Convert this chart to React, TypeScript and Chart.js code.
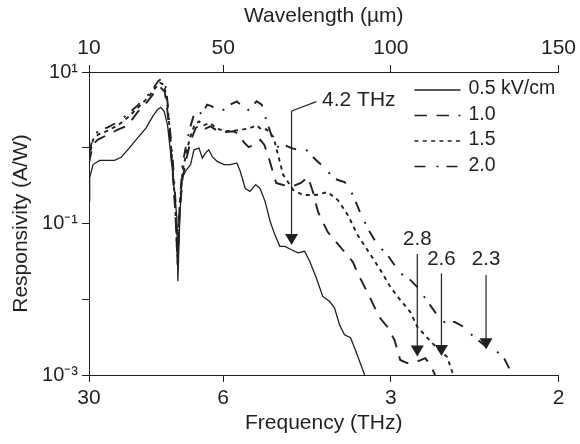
import { useEffect, useRef } from 'react';
import { Chart, registerables } from 'chart.js';

Chart.register(...registerables);

const FONT = '"Liberation Sans", Arial, Helvetica, sans-serif';
const INK = '#231f20';

// Axis ticks (x is linear in wavelength, µm)
const wavelengthTicks = [10, 50, 100, 150];
const wavelengthLabels = ['10', '50', '100', '150'];
const frequencyLabels = ['30', '6', '3', '2'];
const responsivityTicks = [1e-3, 1e-2, 1e-1, 1, 10];
const responsivityLabels = ['10⁻³', '', '10⁻¹', '', '10¹'];

const seriesNames = ['0.5 kV/cm', '1.0', '1.5', '2.0'];

// 0.5 kV/cm (solid)
const wl05 = [10.0, 10.2, 11.2, 13.2, 17.6, 19.6, 22.0, 24.5, 27.0, 29.0, 30.4, 31.4, 32.4, 33.4, 34.4, 35.4, 36.2, 36.5, 37.1, 37.8, 38.8, 40.3, 41.3, 42.8, 43.8, 44.7, 45.7, 46.7, 48.2, 50.3, 52.1, 54.1, 55.1, 56.6, 58.0, 59.7, 61.0, 62.5, 64.0, 65.4, 66.9, 68.4, 70.4, 72.3, 74.3, 75.8, 77.8, 79.7, 81.7, 83.2, 84.7, 86.2, 88.0, 89.5, 92.2];
const r05 = [0.2, 0.40, 0.60, 0.68, 0.68, 0.75, 0.99, 1.35, 1.82, 2.60, 3.18, 3.42, 3.03, 2.02, 0.81, 0.29, 0.118, 0.0173, 0.131, 0.40, 0.49, 0.60, 0.94, 0.99, 0.73, 0.85, 0.94, 0.77, 0.66, 0.60, 0.60, 0.63, 0.49, 0.29, 0.266, 0.326, 0.29, 0.196, 0.107, 0.0713, 0.050, 0.050, 0.045, 0.041, 0.043, 0.0317, 0.0191, 0.0109, 0.0094, 0.0077, 0.0046, 0.0034, 0.0031, 0.0021, 0.001];

// 1.0 kV/cm (long dash)
const wl10 = [10.0, 10.2, 11.2, 12.7, 15.6, 18.6, 21.6, 24.5, 27.5, 29.6, 31.3, 32.6, 33.4, 34.2, 35.0, 35.8, 36.4, 37.0, 37.9, 39.1, 40.3, 41.8, 43.3, 44.7, 46.2, 48.2, 50.7, 53.1, 55.1, 56.1, 57.6, 59.3, 61.1, 62.3, 63.8, 65.8, 67.9, 70.9, 73.2, 75.3, 76.8, 78.3, 81.2, 85.7, 88.7, 90.1, 93.1, 96.6, 99.0, 101.1, 102.8, 104.9, 107.3, 110.3, 112.0, 113.2];
const r10 = [0.62, 0.70, 1.12, 1.28, 1.49, 1.73, 1.98, 2.96, 4.10, 5.45, 6.28, 5.45, 3.03, 1.22, 0.44, 0.131, 0.0286, 0.131, 0.40, 0.73, 1.22, 1.82, 2.02, 1.79, 1.92, 1.68, 1.61, 1.65, 1.49, 1.19, 1.02, 1.09, 1.27, 1.09, 0.69, 0.343, 0.322, 0.313, 0.343, 0.411, 0.26, 0.142, 0.077, 0.0447, 0.031, 0.0222, 0.0121, 0.0058, 0.0043, 0.0029, 0.00158, 0.00144, 0.00147, 0.00167, 0.0013, 0.001];

// 1.5 kV/cm (short dash)
const wl15 = [10.0, 10.2, 11.2, 12.7, 15.6, 18.6, 21.6, 24.5, 27.5, 29.6, 31.2, 32.4, 33.3, 34.1, 34.9, 35.7, 36.4, 37.0, 37.9, 38.9, 40.1, 41.5, 42.8, 44.2, 46.0, 48.2, 50.7, 53.1, 55.6, 58.0, 60.0, 61.5, 62.9, 65.0, 67.9, 70.9, 73.8, 77.7, 81.2, 84.2, 87.2, 90.1, 94.0, 96.9, 99.9, 102.8, 105.8, 107.9, 111.5, 114.4, 116.8, 118.3, 118.8];
const r15 = [0.72, 0.81, 1.28, 1.49, 1.68, 1.98, 2.52, 3.35, 4.54, 6.03, 7.16, 6.81, 4.10, 1.65, 0.60, 0.177, 0.0317, 0.160, 0.49, 0.81, 1.35, 2.02, 2.23, 1.98, 2.12, 1.79, 1.65, 1.68, 1.73, 1.82, 1.98, 1.73, 1.75, 1.39, 0.44, 0.277, 0.238, 0.238, 0.26, 0.204, 0.129, 0.0705, 0.0384, 0.0243, 0.0145, 0.0098, 0.0068, 0.0043, 0.0029, 0.00214, 0.00173, 0.0011, 0.001];

// 2.0 kV/cm (dash-dot)
const wl20 = [10.0, 10.2, 11.2, 12.7, 15.6, 18.6, 21.6, 24.5, 27.5, 29.4, 30.6, 31.9, 32.7, 33.4, 34.2, 35.0, 35.8, 36.4, 37.1, 37.9, 38.8, 40.1, 41.3, 42.3, 43.7, 45.2, 46.7, 48.2, 50.2, 52.1, 54.1, 55.6, 57.1, 58.5, 60.0, 61.5, 62.5, 64.0, 65.4, 66.9, 68.4, 70.4, 72.3, 74.3, 76.3, 78.3, 80.2, 82.2, 84.2, 86.2, 87.6, 89.1, 91.1, 93.6, 95.4, 97.5, 99.0, 102.8, 105.8, 107.9, 110.0, 113.8, 115.9, 119.1, 121.8, 124.7, 128.6, 130.7, 133.6, 136.0, 136.6];
const r20 = [0.85, 0.90, 1.41, 1.65, 1.86, 2.19, 2.79, 3.63, 4.92, 6.28, 7.54, 8.34, 7.16, 4.10, 1.65, 0.66, 0.196, 0.039, 0.196, 0.60, 0.99, 1.82, 2.74, 3.18, 2.74, 3.70, 3.52, 3.03, 3.18, 3.70, 4.10, 3.52, 3.03, 3.52, 4.10, 3.70, 2.60, 1.65, 1.10, 0.99, 1.08, 0.99, 0.94, 0.99, 0.79, 0.65, 0.55, 0.43, 0.375, 0.353, 0.294, 0.217, 0.131, 0.079, 0.058, 0.045, 0.0384, 0.0222, 0.0180, 0.0145, 0.0107, 0.0062, 0.0050, 0.0050, 0.0043, 0.0032, 0.00234, 0.0022, 0.00173, 0.00106, 0.001];

// Arrow annotations (wavelength µm, responsivity A/W)
const arrowLabels = ['4.2 THz', '2.8', '2.6', '2.3'];
const arrowWl = [70.4, 107.9, 115.1, 128.4];
const arrowTopR = [3.06, 0.0395, 0.022, 0.0209];
const arrowTipR = [0.052, 0.00175, 0.00178, 0.00218];
const labelR = [4.18, 0.0618, 0.0337, 0.0337];
const leaderWl = 77.8;
const leaderR = 4.06;
const firstLabelWl = 79.5;

const dashes: number[][] = [[], [12.5, 9.5], [4, 4.3], [11, 11, 2, 8]];
const widths = [1.3, 1.9, 1.9, 1.9];

const toPoints = (xs: number[], ys: number[]) => xs.map((x, i) => ({ x, y: ys[i] }));

const overlayPlugin = {
  id: 'overlay',
  afterDatasetsDraw(chart: any) {
    const { ctx, chartArea } = chart;
    const xs = chart.scales.x;
    const ys = chart.scales.y;
    ctx.save();
    ctx.strokeStyle = INK;
    ctx.fillStyle = INK;
    ctx.lineWidth = 1.2;
    ctx.setLineDash([]);
    for (let i = 0; i < arrowWl.length; i++) {
      const px = xs.getPixelForValue(arrowWl[i]);
      const top = ys.getPixelForValue(arrowTopR[i]);
      const tip = ys.getPixelForValue(arrowTipR[i]);
      ctx.beginPath();
      ctx.moveTo(px, top);
      ctx.lineTo(px, tip - 9);
      ctx.stroke();
      ctx.beginPath();
      ctx.moveTo(px - 6.5, tip - 11);
      ctx.lineTo(px + 6.5, tip - 11);
      ctx.lineTo(px, tip);
      ctx.closePath();
      ctx.fill();
    }
    // leader line of first label
    ctx.beginPath();
    ctx.moveTo(xs.getPixelForValue(arrowWl[0]), ys.getPixelForValue(arrowTopR[0]));
    ctx.lineTo(xs.getPixelForValue(leaderWl), ys.getPixelForValue(leaderR));
    ctx.stroke();

    ctx.font = `21px ${FONT}`;
    ctx.textBaseline = 'middle';
    ctx.textAlign = 'left';
    ctx.fillText(arrowLabels[0], xs.getPixelForValue(firstLabelWl), ys.getPixelForValue(labelR[0]));
    ctx.font = `20.5px ${FONT}`;
    ctx.textAlign = 'center';
    for (let i = 1; i < arrowLabels.length; i++) {
      ctx.fillText(arrowLabels[i], xs.getPixelForValue(arrowWl[i]), ys.getPixelForValue(labelR[i]));
    }

    // legend
    const lx0 = chartArea.right - 144;
    const lx1 = chartArea.right - 98;
    const tx = chartArea.right - 90;
    const rows = [17, 42.5, 68, 93.5];
    ctx.font = `19.5px ${FONT}`;
    ctx.textAlign = 'left';
    for (let i = 0; i < seriesNames.length; i++) {
      const yy = chartArea.top + rows[i];
      ctx.lineWidth = 1.3;
      ctx.setLineDash(dashes[i]);
      ctx.beginPath();
      ctx.moveTo(lx0, yy + 1);
      ctx.lineTo(lx1, yy + 1);
      ctx.stroke();
      ctx.setLineDash([]);
      ctx.fillText(seriesNames[i], tx, yy);
    }
    ctx.restore();
  },
};

export default function App() {
  const ref = useRef<HTMLCanvasElement | null>(null);
  useEffect(() => {
    if (!ref.current) return;
    Chart.defaults.font.family = FONT;
    Chart.defaults.color = INK;
    const sets = [
      toPoints(wl05, r05),
      toPoints(wl10, r10),
      toPoints(wl15, r15),
      toPoints(wl20, r20),
    ];
    const chart = new Chart(ref.current, {
      type: 'line',
      data: {
        datasets: sets.map((d, i) => ({
          label: seriesNames[i],
          data: d,
          borderColor: INK,
          borderWidth: widths[i],
          borderDash: dashes[i],
          pointRadius: 0,
          tension: 0,
          fill: false,
        })),
      },
      options: {
        responsive: false,
        animation: false,
        devicePixelRatio: 1,
        layout: { padding: { left: 0, right: 18, top: 0, bottom: 0 } },
        plugins: { legend: { display: false }, tooltip: { enabled: false } },
        scales: {
          x: {
            type: 'linear',
            position: 'bottom',
            min: 10,
            max: 150,
            afterBuildTicks: (s: any) => {
              s.ticks = wavelengthTicks.map((v) => ({ value: v }));
            },
            afterFit: (s: any) => {
              s.height = 69;
            },
            ticks: {
              autoSkip: false,
              maxRotation: 0,
              padding: 4,
              color: INK,
              font: { size: 21 },
              callback: (v: any) => frequencyLabels[wavelengthTicks.indexOf(Number(v))],
            },
            grid: { display: true, drawOnChartArea: false, drawTicks: true, tickLength: 7, color: INK, lineWidth: 1 },
            border: { display: true, color: INK, width: 1 },
            title: { display: true, text: 'Frequency (THz)', color: INK, font: { size: 21 }, padding: { top: 0, bottom: 8 } },
          },
          x2: {
            type: 'linear',
            position: 'top',
            min: 10,
            max: 150,
            afterBuildTicks: (s: any) => {
              s.ticks = wavelengthTicks.map((v) => ({ value: v }));
            },
            afterFit: (s: any) => {
              s.height = 72;
            },
            ticks: {
              autoSkip: false,
              maxRotation: 0,
              padding: 4,
              color: INK,
              font: { size: 21 },
              callback: (v: any) => wavelengthLabels[wavelengthTicks.indexOf(Number(v))],
            },
            grid: { display: true, drawOnChartArea: false, drawTicks: true, tickLength: 7, color: INK, lineWidth: 1 },
            border: { display: true, color: INK, width: 1 },
            title: { display: true, text: 'Wavelength (µm)', color: INK, font: { size: 21 }, padding: { top: 4, bottom: 0 } },
          },
          y: {
            type: 'logarithmic',
            position: 'left',
            min: 1e-3,
            max: 10,
            afterBuildTicks: (s: any) => {
              s.ticks = responsivityTicks.map((v) => ({ value: v }));
            },
            afterFit: (s: any) => {
              s.width = 89;
            },
            ticks: {
              autoSkip: false,
              padding: 4,
              color: INK,
              font: { size: 20 },
              callback: (v: any) => responsivityLabels[responsivityTicks.indexOf(Number(v))],
            },
            grid: { display: true, drawOnChartArea: false, drawTicks: true, tickLength: 7, color: INK, lineWidth: 1 },
            border: { display: true, color: INK, width: 1 },
            title: { display: true, text: 'Responsivity (A/W)', color: INK, font: { size: 21 }, padding: { top: 9, bottom: 0 } },
          },
        },
      },
      plugins: [overlayPlugin],
    });
    return () => chart.destroy();
  }, []);
  return (
    <div style={{ position: 'absolute', left: 0, top: 0, width: 580, height: 444, background: '#fff' }}>
      <canvas ref={ref} width={580} height={444} style={{ width: 580, height: 444 }} />
    </div>
  );
}
